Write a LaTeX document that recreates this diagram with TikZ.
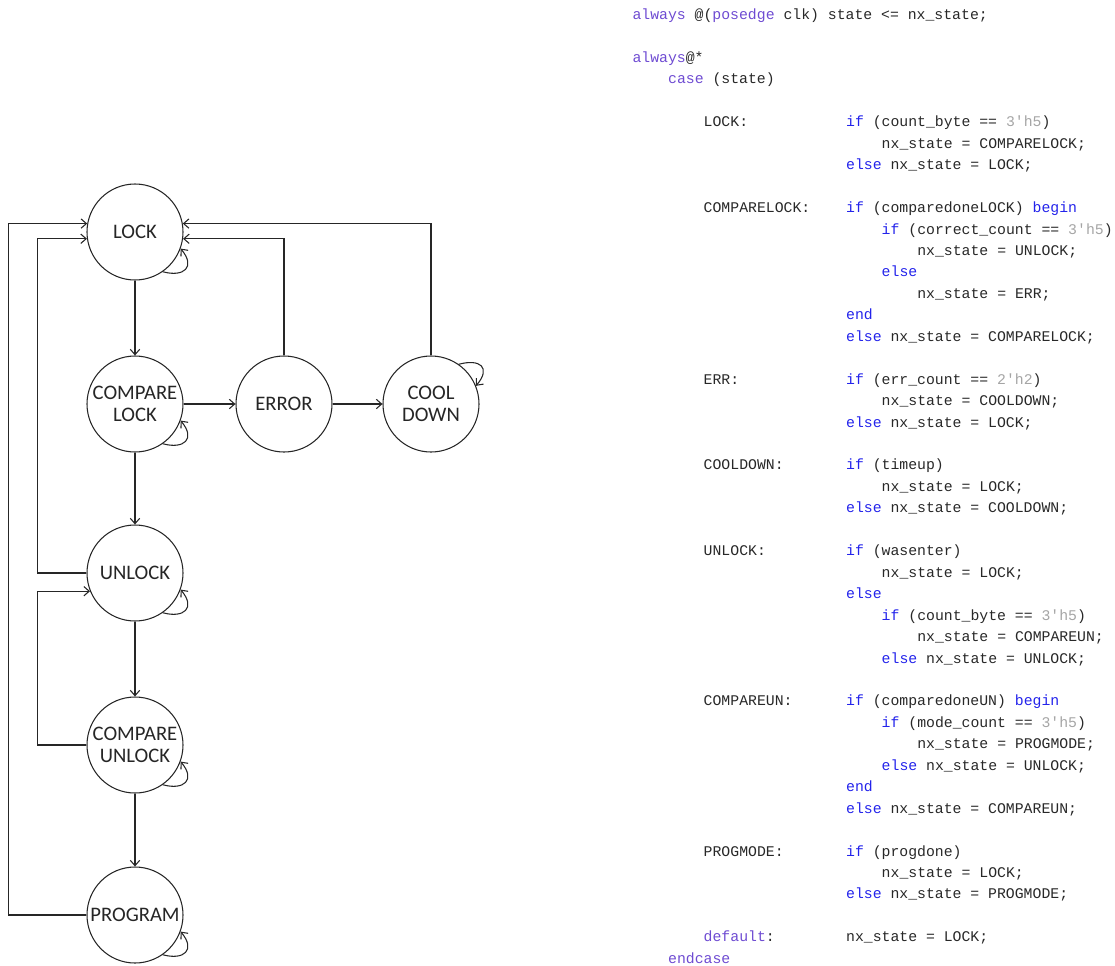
\documentclass[tikz,border=0pt]{standalone}
\usepackage{fontspec}
\usepackage{xcolor}
\usetikzlibrary{arrows.meta}
\newfontfamily\statefont{Carlito}
\newfontfamily\codefont{Liberation Mono}
\definecolor{kwblue}{RGB}{35,35,235}
\definecolor{kwpurple}{RGB}{110,75,210}
\definecolor{numgray}{RGB}{165,165,165}
\definecolor{codegray}{RGB}{40,40,40}
\newcommand{\kw}[1]{\textcolor{kwblue}{#1}}
\newcommand{\kp}[1]{\textcolor{kwpurple}{#1}}
\newcommand{\kn}[1]{\textcolor{numgray}{#1}}
\tikzset{
  state/.style = {circle, draw, minimum size=72pt, inner sep=0pt,
                  align=center, font=\statefont\fontsize{15.5}{16}\selectfont},
  arr/.style = {-{Straight Barb[length=4pt,width=7pt]}},
  code/.style = {anchor=base west, inner sep=0pt, text=codegray,
                 font=\codefont\fontsize{11.1}{13}\selectfont}
}
\begin{document}
\begin{tikzpicture}[x=0.75pt, y=0.75pt, line width=0.8pt, color=black!85]
	\def \cx{632}   % left of code
	\def \cy{19.5}  % first baseline
	\def \cw{8.9}   % char width
	\def \lh{21.45} % line height
	\useasboundingbox (0,0) rectangle (1115,-965);
	
	% States
	\node[state] (lock)    at (135,-232) {LOCK};
	\node[state] (cmplock) at (135,-404) {COMPARE\\LOCK};
	\node[state] (err)     at (284,-404) {ERROR};
	\node[state] (cool)    at (431,-404) {COOL\\DOWN};
	\node[state] (unlock)  at (135,-573) {UNLOCK};
	\node[state] (cmpun)   at (135,-745) {COMPARE\\UNLOCK};
	\node[state] (prog)    at (135,-915) {PROGRAM};
	
	% Forward transitions
	\draw[arr] (lock) -- (cmplock);
	\draw[arr] (cmplock) -- (unlock);
	\draw[arr] (unlock) -- (cmpun);
	\draw[arr] (cmpun) -- (prog);
	\draw[arr] (cmplock) -- (err);
	\draw[arr] (err) -- (cool);
	
	% Back to LOCK / UNLOCK
	\draw[arr] (err.north) |- (lock.-8);
	\draw[arr] (cool.north) |- (lock.10);
	\draw[arr] (unlock.west) -- ++(-49,0) |- (lock.-172);
	\draw[arr] (prog.west) -- ++(-78,0) |- (lock.170);
	\draw[arr] (cmpun.west) -- ++(-49,0) |- (unlock.-158);
	
	% Self loops
	\draw[arr] (lock.-55) .. controls +(-15:22) and +(-50:24) .. (lock.-20);
	\draw[arr] (cmplock.-55) .. controls +(-15:22) and +(-50:24) .. (cmplock.-20);
	\draw[arr] (unlock.-55) .. controls +(-15:22) and +(-50:24) .. (unlock.-20);
	\draw[arr] (cmpun.-55) .. controls +(-15:22) and +(-50:24) .. (cmpun.-20);
	\draw[arr] (prog.-55) .. controls +(-15:22) and +(-50:24) .. (prog.-20);
	\draw[arr] (cool.55) .. controls +(15:22) and +(50:24) .. (cool.22);
	
	% Code
	\node[code] (l0) at (\cx, -\cy) {\kp{always} @(\kp{posedge} clk) state <= nx\_state;};
	\node[code] (l2) at (\cx, -\cy-2*\lh) {\kp{always}@*};
	\node[code] (l3) at (\cx+4*\cw, -\cy-3*\lh) {\kp{case} (state)};
	
	% LOCK
	\node[code] (l5a) at (\cx+8*\cw, -\cy-5*\lh) {LOCK:};
	\node[code] (l5)  at (\cx+24*\cw, -\cy-5*\lh) {\kw{if} (count\_byte == \kn{3'h5})};
	\node[code] (l6)  at (\cx+28*\cw, -\cy-6*\lh) {nx\_state = COMPARELOCK;};
	\node[code] (l7)  at (\cx+24*\cw, -\cy-7*\lh) {\kw{else} nx\_state = LOCK;};
	
	% COMPARELOCK
	\node[code] (l9a) at (\cx+8*\cw, -\cy-9*\lh) {COMPARELOCK:};
	\node[code] (l9)  at (\cx+24*\cw, -\cy-9*\lh) {\kw{if} (comparedoneLOCK) \kw{begin}};
	\node[code] (l10) at (\cx+28*\cw, -\cy-10*\lh) {\kw{if} (correct\_count == \kn{3'h5})};
	\node[code] (l11) at (\cx+32*\cw, -\cy-11*\lh) {nx\_state = UNLOCK;};
	\node[code] (l12) at (\cx+28*\cw, -\cy-12*\lh) {\kw{else}};
	\node[code] (l13) at (\cx+32*\cw, -\cy-13*\lh) {nx\_state = ERR;};
	\node[code] (l14) at (\cx+24*\cw, -\cy-14*\lh) {\kw{end}};
	\node[code] (l15) at (\cx+24*\cw, -\cy-15*\lh) {\kw{else} nx\_state = COMPARELOCK;};
	
	% ERR
	\node[code] (l17a) at (\cx+8*\cw, -\cy-17*\lh) {ERR:};
	\node[code] (l17)  at (\cx+24*\cw, -\cy-17*\lh) {\kw{if} (err\_count == \kn{2'h2})};
	\node[code] (l18)  at (\cx+28*\cw, -\cy-18*\lh) {nx\_state = COOLDOWN;};
	\node[code] (l19)  at (\cx+24*\cw, -\cy-19*\lh) {\kw{else} nx\_state = LOCK;};
	
	% COOLDOWN
	\node[code] (l21a) at (\cx+8*\cw, -\cy-21*\lh) {COOLDOWN:};
	\node[code] (l21)  at (\cx+24*\cw, -\cy-21*\lh) {\kw{if} (timeup)};
	\node[code] (l22)  at (\cx+28*\cw, -\cy-22*\lh) {nx\_state = LOCK;};
	\node[code] (l23)  at (\cx+24*\cw, -\cy-23*\lh) {\kw{else} nx\_state = COOLDOWN;};
	
	% UNLOCK
	\node[code] (l25a) at (\cx+8*\cw, -\cy-25*\lh) {UNLOCK:};
	\node[code] (l25)  at (\cx+24*\cw, -\cy-25*\lh) {\kw{if} (wasenter)};
	\node[code] (l26)  at (\cx+28*\cw, -\cy-26*\lh) {nx\_state = LOCK;};
	\node[code] (l27)  at (\cx+24*\cw, -\cy-27*\lh) {\kw{else}};
	\node[code] (l28)  at (\cx+28*\cw, -\cy-28*\lh) {\kw{if} (count\_byte == \kn{3'h5})};
	\node[code] (l29)  at (\cx+32*\cw, -\cy-29*\lh) {nx\_state = COMPAREUN;};
	\node[code] (l30)  at (\cx+28*\cw, -\cy-30*\lh) {\kw{else} nx\_state = UNLOCK;};
	
	% COMPAREUN
	\node[code] (l32a) at (\cx+8*\cw, -\cy-32*\lh) {COMPAREUN:};
	\node[code] (l32)  at (\cx+24*\cw, -\cy-32*\lh) {\kw{if} (comparedoneUN) \kw{begin}};
	\node[code] (l33)  at (\cx+28*\cw, -\cy-33*\lh) {\kw{if} (mode\_count == \kn{3'h5})};
	\node[code] (l34)  at (\cx+32*\cw, -\cy-34*\lh) {nx\_state = PROGMODE;};
	\node[code] (l35)  at (\cx+28*\cw, -\cy-35*\lh) {\kw{else} nx\_state = UNLOCK;};
	\node[code] (l36)  at (\cx+24*\cw, -\cy-36*\lh) {\kw{end}};
	\node[code] (l37)  at (\cx+24*\cw, -\cy-37*\lh) {\kw{else} nx\_state = COMPAREUN;};
	
	% PROGMODE
	\node[code] (l39a) at (\cx+8*\cw, -\cy-39*\lh) {PROGMODE:};
	\node[code] (l39)  at (\cx+24*\cw, -\cy-39*\lh) {\kw{if} (progdone)};
	\node[code] (l40)  at (\cx+28*\cw, -\cy-40*\lh) {nx\_state = LOCK;};
	\node[code] (l41)  at (\cx+24*\cw, -\cy-41*\lh) {\kw{else} nx\_state = PROGMODE;};
	
	% default
	\node[code] (l43a) at (\cx+8*\cw, -\cy-43*\lh) {\kp{default}:};
	\node[code] (l43)  at (\cx+24*\cw, -\cy-43*\lh) {nx\_state = LOCK;};
	\node[code] (l44)  at (\cx+4*\cw, -\cy-44*\lh) {\kp{endcase}};
	
\end{tikzpicture}
\end{document}
